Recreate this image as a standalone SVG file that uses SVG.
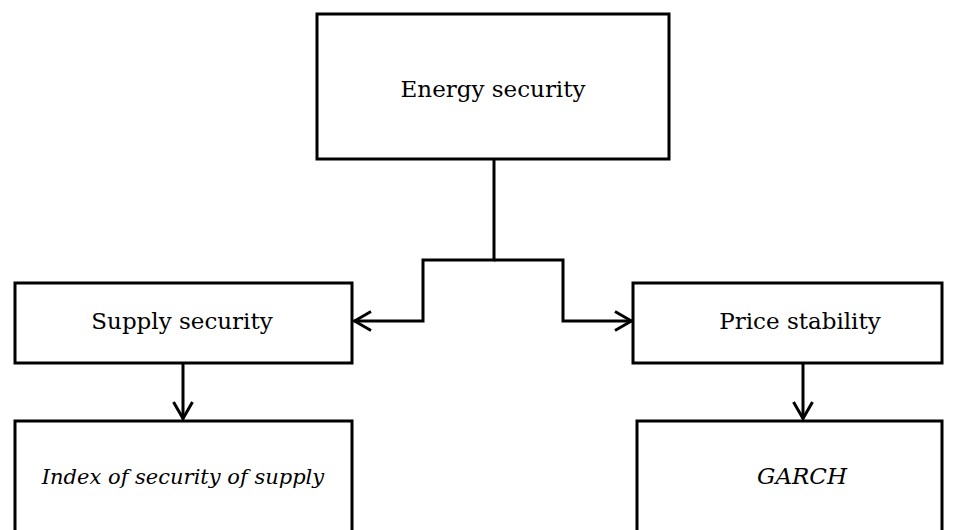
<svg xmlns="http://www.w3.org/2000/svg" width="958" height="530" viewBox="0 0 958 530">
<style>
.box{fill:#fff;stroke:#000;stroke-width:3}
.lbl{font-family:"DejaVu Serif","Liberation Serif",serif;font-size:23px;fill:#000;text-anchor:middle}
.it{font-style:italic}
.ln{fill:none;stroke:#000;stroke-width:3}
</style>
<defs>
<marker id="ah" viewBox="0 0 20 22" refX="19" refY="11" markerWidth="20" markerHeight="22" markerUnits="userSpaceOnUse" orient="auto">
<path d="M2,1.5 L18.5,11 L2,20.5" fill="none" stroke="#000" stroke-width="3"/>
</marker>
</defs>
<g id="connectors">
<polyline class="ln" points="494,159 494,260 423,260 423,321 354,321" marker-end="url(#ah)"/>
<polyline class="ln" points="494,260 563,260 563,321 632,321" marker-end="url(#ah)"/>
<line class="ln" x1="183" y1="363" x2="183" y2="419" marker-end="url(#ah)"/>
<line class="ln" x1="803" y1="363" x2="803" y2="419" marker-end="url(#ah)"/>
</g>
<g id="energy-security">
<rect class="box" x="317" y="14" width="352" height="145"/>
<text class="lbl" x="493" y="97">Energy security</text>
</g>
<g id="supply-security">
<rect class="box" x="15" y="283" width="337" height="80"/>
<text class="lbl" x="182" y="329">Supply security</text>
</g>
<g id="price-stability">
<rect class="box" x="633" y="283" width="309" height="80"/>
<text class="lbl" x="800" y="329">Price stability</text>
</g>
<g id="index-security-supply">
<rect class="box" x="15" y="421" width="337" height="130"/>
<text class="lbl it" x="183" y="484" style="font-size:21px">Index of security of supply</text>
</g>
<g id="garch">
<rect class="box" x="637" y="421" width="305" height="130"/>
<text class="lbl it" x="802" y="484">GARCH</text>
</g>
</svg>
